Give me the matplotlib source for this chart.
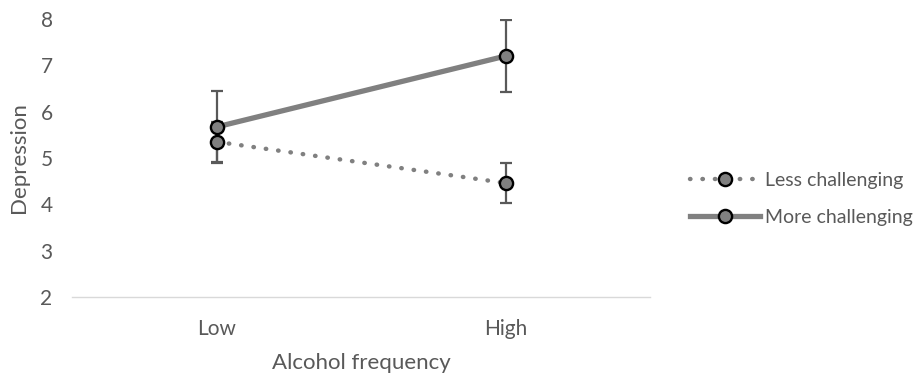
import numpy as np
import matplotlib.pyplot as plt

plt.rcParams['font.family'] = ['Lato', 'DejaVu Sans']

# data
categories = ['Low', 'High']
less_mean = [5.35, 4.46]
less_err = [0.43, 0.43]
more_mean = [5.67, 7.20]
more_err = [0.77, 0.77]
yticks = [2, 3, 4, 5, 6, 7, 8]

line_gray = '#808080'
text_gray = '#595959'

fig = plt.figure(figsize=(9.19, 3.76), dpi=100)
ax = fig.add_axes([72 / 919, 1 - 297 / 376, (650 - 72) / 919, (297 - 19) / 376])

x = np.arange(len(categories))

ax.errorbar(x, more_mean, yerr=more_err, fmt='none', ecolor=text_gray,
            elinewidth=1.6, capsize=4, capthick=1.6, zorder=2)
ax.errorbar(x, less_mean, yerr=less_err, fmt='none', ecolor=text_gray,
            elinewidth=1.6, capsize=4, capthick=1.6, zorder=2)

ax.plot(x, less_mean, linestyle=(0, (0.1, 2.7)), dash_capstyle='round',
        color=line_gray, linewidth=3.2, marker='o', markersize=9.5,
        markerfacecolor=line_gray, markeredgecolor='black', markeredgewidth=1.7,
        label='Less challenging', zorder=3)
ax.plot(x, more_mean, linestyle='-', color=line_gray, linewidth=3.8,
        marker='o', markersize=9.5, markerfacecolor=line_gray,
        markeredgecolor='black', markeredgewidth=1.7,
        label='More challenging', zorder=3)

ax.set_xlim(-0.5, 1.5)
ax.set_ylim(2, 8)
ax.set_xticks(x)
ax.set_xticklabels(categories)
ax.set_yticks(yticks)

for side in ['top', 'right', 'left']:
    ax.spines[side].set_visible(False)
ax.spines['bottom'].set_color('#d9d9d9')
ax.spines['bottom'].set_linewidth(1.0)
ax.tick_params(axis='both', length=0, labelsize=15, colors=text_gray)
ax.tick_params(axis='y', pad=14)
ax.tick_params(axis='x', pad=16)

ax.set_xlabel('Alcohol frequency', fontsize=16, color=text_gray, labelpad=10)
ax.set_ylabel('Depression', fontsize=16, color=text_gray, labelpad=8)

fig.legend(loc='center left', bbox_to_anchor=(672 / 919, 1 - 199 / 376),
           frameon=False, fontsize=14, handlelength=3.6, labelspacing=1.0,
           handletextpad=0.3, labelcolor=text_gray)

fig.savefig('out.png', dpi=100)
